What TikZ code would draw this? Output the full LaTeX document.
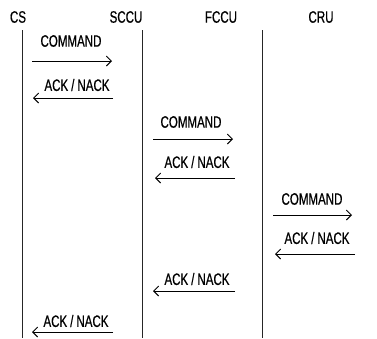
\documentclass[tikz,border=0pt]{standalone}
\usepackage{fontspec}
\setmainfont{Liberation Sans}[FakeStretch=0.7,FakeBold=0.6]
\usetikzlibrary{arrows.meta}
\begin{document}
\begin{tikzpicture}[x=1pt,y=-1pt,
  hdr/.style={inner sep=0pt,font=\fontsize{16.5}{17}\selectfont},
  lbl/.style={inner sep=0pt,font=\fontsize{16.5}{17}\selectfont},
  life/.style={line width=0.9pt,black!85},
  msg/.style={line width=0.8pt,-{Straight Barb[length=5pt,width=10pt,line width=0.9pt]}}]
\useasboundingbox (0,0) rectangle (377,338);
% headers
\node[hdr] (cs)   at (18,17)  {CS};
\node[hdr] (sccu) at (126,17) {SCCU};
\node[hdr] (fccu) at (221,17) {FCCU};
\node[hdr] (cru)  at (321,17) {CRU};
% lifelines
\coordinate (csT) at (22,30);   \coordinate (csB) at (22,338);
\coordinate (scT) at (142,30);  \coordinate (scB) at (142,338);
\coordinate (fcT) at (262,30);  \coordinate (fcB) at (262,338);
\draw[life] (csT) -- (csB);
\draw[life] (scT) -- (scB);
\draw[life] (fcT) -- (fcB);
% 1
\node[lbl] (l1) at (71,41) {COMMAND};
\coordinate (a1) at (32,61); \coordinate (b1) at (112,61);
\draw[msg] (a1) -- (b1);
% 2
\node[lbl] (l2) at (77,85) {ACK\hspace{3pt}/\hspace{3pt}NACK};
\coordinate (a2) at (113,98); \coordinate (b2) at (33,98);
\draw[msg] (a2) -- (b2);
% 3
\node[lbl] (l3) at (191,122) {COMMAND};
\coordinate (a3) at (153,139); \coordinate (b3) at (233,139);
\draw[msg] (a3) -- (b3);
% 4
\node[lbl] (l4) at (197,162) {ACK\hspace{3pt}/\hspace{3pt}NACK};
\coordinate (a4) at (235,178); \coordinate (b4) at (155,178);
\draw[msg] (a4) -- (b4);
% 5
\node[lbl] (l5) at (312,199) {COMMAND};
\coordinate (a5) at (273,215); \coordinate (b5) at (352,215);
\draw[msg] (a5) -- (b5);
% 6
\node[lbl] (l6) at (317,238) {ACK\hspace{3pt}/\hspace{3pt}NACK};
\coordinate (a6) at (355,254); \coordinate (b6) at (275,254);
\draw[msg] (a6) -- (b6);
% 7
\node[lbl] (l7) at (197,279) {ACK\hspace{3pt}/\hspace{3pt}NACK};
\coordinate (a7) at (235,291); \coordinate (b7) at (153,291);
\draw[msg] (a7) -- (b7);
% 8
\node[lbl] (l8) at (76,321) {ACK\hspace{3pt}/\hspace{3pt}NACK};
\coordinate (a8) at (113,332); \coordinate (b8) at (32,332);
\draw[msg] (a8) -- (b8);
\end{tikzpicture}
\end{document}
